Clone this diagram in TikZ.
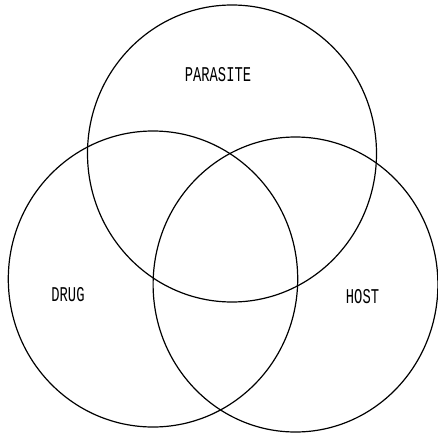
\documentclass[tikz,border=0pt]{standalone}
\usepackage{fontspec}
\usepackage{graphicx}
\newfontfamily\labfont{Liberation Mono}
\tikzset{
  setcirc/.style={draw=black, line width=1.2pt},
  setlabel/.style={inner sep=0pt, font=\labfont\fontsize{14.5}{15}\selectfont}
}
\newcommand{\tall}[1]{\scalebox{0.95}[1.45]{#1}}
\begin{document}
\begin{tikzpicture}[x=1pt,y=1pt]
\useasboundingbox (0,0) rectangle (438,432);
\draw[setcirc] (232,278.5) ellipse [x radius=144.5, y radius=148.5];
\draw[setcirc] (153,153) ellipse [x radius=144.7, y radius=148];
\draw[setcirc] (295.5,147.5) ellipse [x radius=142.4, y radius=147.5];
\node[setlabel] (parasite) at (218,357) {\tall{PARASITE}};
\node[setlabel] (drug) at (68,137) {\tall{DRUG}};
\node[setlabel] (host) at (362.5,135) {\tall{HOST}};
\end{tikzpicture}
\end{document}
